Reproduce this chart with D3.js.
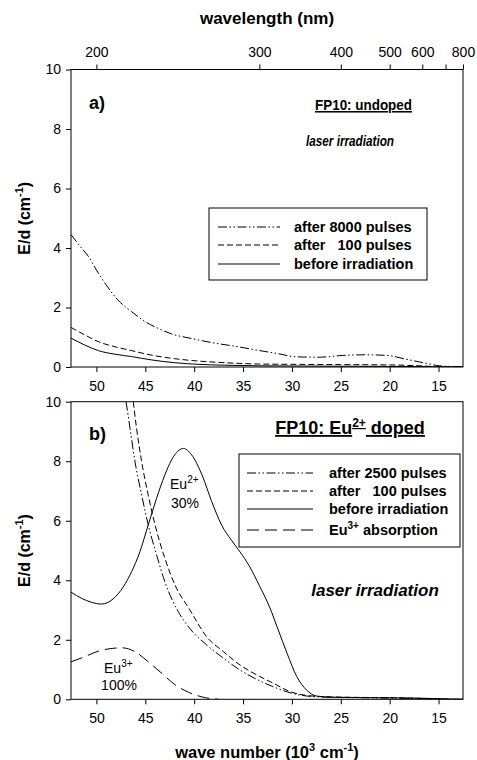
<!DOCTYPE html>
<html>
<head>
<meta charset="utf-8">
<script src="https://cdn.jsdelivr.net/npm/d3@7"></script>
<style>
  html, body { margin: 0; padding: 0; background: #fff; }
  svg { display: block; font-family: "Liberation Sans", Arial, sans-serif; }
  text { white-space: pre; }
</style>
</head>
<body>
<svg id="chart" width="477" height="760"></svg>
<script>
// ---------- data (wave number in 10^3 cm^-1, E/d in cm^-1) ----------
const xTicks = [50, 45, 40, 35, 30, 25, 20, 15];
const yTicks = [0, 2, 4, 6, 8, 10];
const wlTicks = [200, 300, 400, 500, 600, 700, 800];
const wlLabeled = [200, 300, 400, 500, 600, 800];

// panel a: FP10 undoped
const a8000 = [[52.6,4.45],[51.5,3.99],[50.8,3.71],[50,3.26],[49,2.76],[47.8,2.25],[46.4,1.86],[45,1.52],[43.7,1.30],[42.3,1.11],[40.3,0.96],[38.2,0.82],[35.5,0.68],[33.3,0.55],[31.6,0.46],[29.5,0.34],[27.1,0.33],[24.8,0.39],[22.4,0.41],[20.3,0.39],[18.3,0.26],[16.2,0.12],[14.9,0.04],[12.5,0.01]];
const a100 = [[52.6,1.33],[51.2,1.08],[49.8,0.85],[48.1,0.68],[46.4,0.55],[44.4,0.40],[42,0.28],[39.6,0.20],[36.9,0.145],[33.4,0.10],[30,0.09],[25,0.08],[20,0.07],[17,0.04],[15,0.01],[12.5,0]];
const aBefore = [[52.6,0.97],[51.2,0.74],[49.8,0.55],[48.1,0.43],[46.4,0.35],[44.4,0.24],[42,0.145],[39.6,0.09],[36.9,0.06],[33.4,0.04],[28,0.03],[20,0.02],[15,0.01],[12.5,0]];

// panel b: FP10 Eu2+ doped
const b2500 = [[46.97,10],[46.56,9.1],[46.05,7.98],[45.37,6.86],[44.7,5.86],[43.84,4.85],[43,3.95],[41.62,2.94],[40.4,2.36],[38.7,1.82],[37,1.38],[35.3,0.98],[33.6,0.67],[31.9,0.42],[30.2,0.22],[28.5,0.11],[26,0.07],[22,0.05],[18,0.03],[15,0.01],[12.5,0]];
const b100 = [[46.23,10],[45.89,9.1],[45.37,7.98],[44.7,6.86],[44,5.86],[43,4.74],[41.96,3.84],[40.43,3.0],[38.72,2.10],[37,1.60],[35.3,1.15],[33.6,0.82],[31.9,0.54],[30.2,0.26],[28.5,0.13],[26,0.08],[22,0.06],[18,0.04],[15,0.01],[12.5,0]];
const bBefore = [[52.6,3.60],[51.5,3.39],[50.5,3.26],[49.5,3.20],[48.3,3.37],[47.25,3.78],[46.4,4.29],[45.55,4.96],[44.7,5.86],[43.85,6.75],[43,7.54],[42,8.21],[41.1,8.43],[40.25,8.21],[39.2,7.54],[38.2,6.64],[37.2,5.86],[36.2,5.35],[35.3,4.95],[34.4,4.50],[33.3,3.80],[32.3,3.11],[31.4,2.33],[30.5,1.55],[29.5,0.76],[28.5,0.31],[27.5,0.11],[26.1,0.07],[20,0.05],[17,0.04],[14,0.01],[12.5,0]];
const bEu3 = [[52.6,1.26],[51.2,1.43],[49.8,1.62],[48.4,1.71],[47.4,1.73],[46.05,1.60],[44.7,1.26],[43.3,0.87],[42,0.50],[40.6,0.24],[39.2,0.08],[37.5,0.0]];

const legendA = ["after 8000 pulses", "after   100 pulses", "before irradiation"];
const legendB = ["after 2500 pulses", "after   100 pulses", "before irradiation", "absorption"];

// ---------- layout ----------
const svg = d3.select("#chart");
const X0 = 71, X1 = 463;
const x = d3.scaleLinear().domain([52.6, 12.5]).range([X0, X1]);
const yA = d3.scaleLinear().domain([0, 10]).range([367, 69.5]);
const yB = d3.scaleLinear().domain([0, 10]).range([699.3, 401.7]);

const DASHDOT = "9,2.5,1.5,2.5,1.5,2.5";
const DASHED = "6,3";
const LONGDASH = "12,6";

function styleAxis(g) {
  g.selectAll("path.domain").remove();
  g.selectAll("line").attr("stroke", "#000").attr("stroke-width", 1);
  g.selectAll("text").attr("font-size", 14).attr("fill", "#000")
    .attr("font-family", '"Liberation Sans", Arial, sans-serif');
}

function panel(y, clipId) {
  svg.append("rect").attr("x", X0).attr("y", y(10)).attr("width", X1 - X0).attr("height", y(0) - y(10))
    .attr("fill", "none").attr("stroke", "#000").attr("stroke-width", 1);
  svg.append("clipPath").attr("id", clipId).append("rect")
    .attr("x", X0).attr("y", y(10)).attr("width", X1 - X0).attr("height", y(0) - y(10));
  const ga = svg.append("g").attr("transform", `translate(${X0},0)`)
    .call(d3.axisLeft(y).tickValues(yTicks).tickSize(5).tickPadding(5).tickFormat(d3.format("d")));
  styleAxis(ga);
  const gb = svg.append("g").attr("transform", `translate(0,${y(0)})`)
    .call(d3.axisBottom(x).tickValues(xTicks).tickSize(5).tickPadding(9).tickFormat(d3.format("d")));
  styleAxis(gb);
}

panel(yA, "clipA");
panel(yB, "clipB");

// top wavelength axis
const gt = svg.append("g").attr("transform", `translate(0,${yA(10)})`)
  .call(d3.axisTop(x).tickValues(wlTicks.map(l => 1e4 / l)).tickSize(5).tickPadding(8)
    .tickFormat((d, i) => wlLabeled.includes(wlTicks[i]) ? String(wlTicks[i]) : ""));
styleAxis(gt);

function drawLine(data, y, dash, clip) {
  const line = d3.line().x(d => x(d[0])).y(d => y(d[1])).curve(d3.curveMonotoneX);
  svg.append("path").datum(data).attr("d", line)
    .attr("fill", "none").attr("stroke", "#000").attr("stroke-width", 1)
    .attr("stroke-dasharray", dash).attr("clip-path", `url(#${clip})`);
}

drawLine(a8000, yA, DASHDOT, "clipA");
drawLine(a100, yA, DASHED, "clipA");
drawLine(aBefore, yA, null, "clipA");

drawLine(b2500, yB, DASHDOT, "clipB");
drawLine(b100, yB, DASHED, "clipB");
drawLine(bBefore, yB, null, "clipB");
drawLine(bEu3, yB, LONGDASH, "clipB");

// ---------- texts ----------
function txt(xp, yp, s, opts = {}) {
  return svg.append("text").attr("x", xp).attr("y", yp).text(s)
    .attr("font-size", opts.size || 13).attr("font-weight", opts.weight || "normal")
    .attr("font-style", opts.style || "normal").attr("text-anchor", opts.anchor || "start")
    .attr("fill", "#000");
}

// axis titles
txt(267, 24, "wavelength (nm)", { size: 17, weight: "bold", anchor: "middle" });
const bt = txt(267, 758, "", { size: 16.5, weight: "bold", anchor: "middle" });
bt.append("tspan").text("wave number (10");
bt.append("tspan").text("3").attr("font-size", 11).attr("dy", -7);
bt.append("tspan").text(" cm").attr("dy", 7);
bt.append("tspan").text("-1").attr("font-size", 11).attr("dy", -7);
bt.append("tspan").text(")").attr("dy", 7);

function yTitle(cy) {
  const t = svg.append("text").attr("transform", `translate(30,${cy}) rotate(-90)`)
    .attr("text-anchor", "middle").attr("font-size", 16).attr("font-weight", "bold").attr("fill", "#000");
  t.append("tspan").text("E/d (cm");
  t.append("tspan").text("-1").attr("font-size", 11).attr("dy", -7);
  t.append("tspan").text(")").attr("dy", 7);
}
yTitle((yA(0) + yA(10)) / 2);
yTitle((yB(0) + yB(10)) / 2);

// panel labels
txt(89, 109, "a)", { size: 18, weight: "bold" });
txt(89, 440, "b)", { size: 18, weight: "bold" });

// panel a titles
txt(315, 110, "FP10: undoped", { size: 15.5, weight: "bold" })
  .attr("text-decoration", "underline").attr("textLength", 97).attr("lengthAdjust", "spacingAndGlyphs");
txt(306, 146, "laser irradiation", { size: 15, weight: "bold", style: "italic" })
  .attr("textLength", 88).attr("lengthAdjust", "spacingAndGlyphs");

// panel b titles
const tb = txt(350, 434, "", { size: 18, weight: "bold", anchor: "middle" }).attr("text-decoration", "underline");
tb.append("tspan").text("FP10: Eu");
tb.append("tspan").text("2+").attr("font-size", 12).attr("dy", -7);
tb.append("tspan").text(" doped").attr("dy", 7);
txt(375, 596, "laser irradiation", { size: 17, weight: "bold", style: "italic", anchor: "middle" });

// annotations
const e2 = txt(170, 489, "", { size: 14 });
e2.append("tspan").text("Eu");
e2.append("tspan").text("2+").attr("font-size", 10).attr("dy", -6);
txt(185, 508, "30%", { size: 14, anchor: "middle" });
const e3 = txt(104, 673, "", { size: 14 });
e3.append("tspan").text("Eu");
e3.append("tspan").text("3+").attr("font-size", 10).attr("dy", -6);
txt(119, 690, "100%", { size: 14, anchor: "middle" });

// legends
function legend(box, lineX0, lineX1, textX, rows, labels, dashes) {
  svg.append("rect").attr("x", box[0]).attr("y", box[1]).attr("width", box[2] - box[0]).attr("height", box[3] - box[1])
    .attr("fill", "#fff").attr("stroke", "#000").attr("stroke-width", 1);
  labels.forEach((lab, i) => {
    svg.append("line").attr("x1", lineX0).attr("x2", lineX1).attr("y1", rows[i]).attr("y2", rows[i])
      .attr("stroke", "#000").attr("stroke-width", 1).attr("stroke-dasharray", dashes[i]);
    const t = txt(textX, rows[i] + 5, "", { size: 14.5, weight: "bold" });
    if (lab === "absorption") {
      t.append("tspan").text("Eu");
      t.append("tspan").text("3+").attr("font-size", 10).attr("dy", -6);
      t.append("tspan").text(" absorption").attr("dy", 6);
    } else {
      t.text(lab);
    }
  });
}
legend([209, 208, 427, 280], 218, 280, 294, [227, 245, 264], legendA, [DASHDOT, DASHED, null]);
legend([239, 454, 460, 547], 247, 313, 329, [473, 491, 509, 530], legendB, [DASHDOT, DASHED, null, LONGDASH]);
</script>
</body>
</html>
